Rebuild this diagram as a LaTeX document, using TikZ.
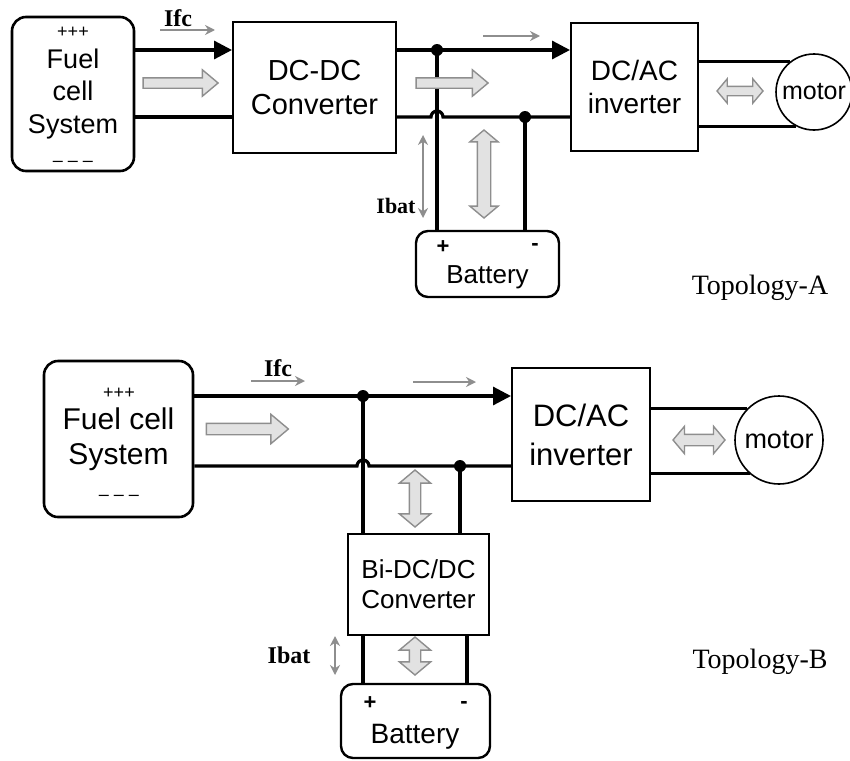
\documentclass[tikz,border=0pt]{standalone}
\usepackage{fontspec}
\setmainfont{Liberation Serif}
\newfontfamily\arial{Liberation Sans}
\usetikzlibrary{arrows.meta, shapes.arrows}
\definecolor{flowGrey}{HTML}{8E8E8E}
\definecolor{flowFill}{HTML}{E2E2E2}
\tikzset{
  blk/.style={draw, line width=1pt, align=center, inner sep=0pt,
    font=\arial\fontsize{14.5}{17}\selectfont},
  srcbox/.style={blk, rounded corners=7pt, line width=1.3pt},
  batbox/.style={blk, rounded corners=6pt, line width=1.2pt},
  motorc/.style={draw, circle, line width=0.8pt, inner sep=0pt, fill=white},
  wire/.style={line width=1.6pt},
  wirea/.style={wire, -{Triangle[length=9pt, width=9pt]}},
  jdot/.style={circle, fill, inner sep=0pt, minimum size=6pt},
  pm/.style={font=\arial\bfseries\fontsize{11}{12}\selectfont, inner sep=0pt},
  cur/.style={font=\bfseries\fontsize{12}{14}\selectfont, inner sep=0pt},
  topo/.style={font=\fontsize{14}{16}\selectfont, inner sep=0pt},
  cflow/.style={draw=flowGrey, line width=1.3pt, -{Stealth[length=5pt, width=5pt]}},
  cflow2/.style={cflow, {Stealth[length=5pt, width=5pt]}-{Stealth[length=5pt, width=5pt]}},
  fatr/.style={single arrow, draw=flowGrey, fill=flowFill, line width=0.7pt,
    inner xsep=0pt, single arrow tip angle=80, single arrow head indent=0pt},
  fatlr/.style={double arrow, draw=flowGrey, fill=flowFill, line width=0.7pt,
    inner xsep=0pt, double arrow tip angle=100, double arrow head indent=0pt},
  sign/.style={font=\arial\fontsize{9}{10}\selectfont, inner sep=0pt},
}
\begin{document}
\begin{tikzpicture}[x=0.5pt, y=-0.5pt]
  \useasboundingbox (0,0) rectangle (850,760);

  % Topology A
  \node[srcbox, minimum width=61pt, minimum height=77pt,
    font=\arial\fontsize{13.5}{16.25}\selectfont] (fcA) at (73,94) {Fuel\\cell\\System};
  \node[sign] (fcAp) at (73,32) {+++};
  \node[sign] (fcAm) at (73,164) {– – –};
  \node[blk, minimum width=81.5pt, minimum height=65.5pt] (ddA) at (314.5,87.5) {DC-DC\\Converter};
  \node[blk, minimum width=63.5pt, minimum height=64pt, font=\arial\fontsize{14}{16.5}\selectfont] (acA) at (634.5,87) {DC/AC\\inverter};
  \node[batbox, minimum width=71.5pt, minimum height=33pt] (batA) at (487.5,264) {};
  \node[font=\arial\fontsize{13}{14}\selectfont, inner sep=0pt] (batAt) at (487.5,277) {Battery};
  \node[pm] (batAp) at (443,247) {+};
  \node[pm] (batAm) at (535,247) {-};

  \coordinate (jA1) at (437,50);
  \coordinate (jA2) at (525,117);
  \draw[wirea] (fcA.east |- jA1) -- (ddA.west |- jA1);
  \draw[wire]  (fcA.east |- jA2) -- (ddA.west |- jA2);
  \draw[wirea] (ddA.east |- jA1) -- (acA.west |- jA1);
  \draw[wire]  (ddA.east |- jA2) -- ([xshift=-3pt]jA1 |- jA2)
    arc[start angle=180, end angle=360, radius=6] -- (acA.west |- jA2);
  \draw[wire] (jA1) -- (jA1 |- batA.north);
  \draw[wire] (jA2) -- (jA2 |- batA.north);
  \node[jdot] (dA1) at (jA1) {};
  \node[jdot] (dA2) at (jA2) {};

  \node[motorc, minimum size=38pt, font=\arial\fontsize{12.5}{14}\selectfont] (motA) at (814,92) {motor};
  \draw[wire] (acA.east |- motA.128) -- (motA.128);
  \draw[wire] (acA.east |- motA.243) -- (motA.243);

  \node[cur] (ifcA) at (178,18) {Ifc};
  \draw[cflow] (160,30) -- (215,30);
  \draw[cflow] (483,36) -- (540,36);
  \node[cur, font=\bfseries\fontsize{11}{13}\selectfont] (ibatA) at (396,206) {Ibat};
  \draw[cflow2] (423,135) -- (423,218);

  \node[fatr, minimum height=37.5pt, inner ysep=2.25pt, single arrow head extend=4pt] (faA1) at (177.5,83) {};
  \node[fatr, minimum height=36pt, inner ysep=2.25pt, single arrow head extend=4pt] (faA2) at (449,83) {};
  \node[fatlr, rotate=90, minimum height=44pt, inner ysep=3pt, double arrow head extend=3.75pt] (faA3) at (484,174) {};
  \node[fatlr, minimum height=23pt, inner ysep=2pt, double arrow head extend=3.75pt] (faA4) at (740,91) {};

  \node[topo] (topoA) at (760,288) {Topology-A};

  % Topology B
  \node[srcbox, minimum width=74.5pt, minimum height=78pt,
    font=\arial\fontsize{15}{17.5}\selectfont] (fcB) at (118.5,439) {Fuel cell\\System};
  \node[sign] (fcBp) at (119,393) {+++};
  \node[sign] (fcBm) at (119,498) {– – –};
  \node[blk, minimum width=69pt, minimum height=66.5pt,
    font=\arial\fontsize{15.5}{19.5}\selectfont] (acB) at (581,434.5) {DC/AC\\inverter};
  \node[blk, minimum width=70.5pt, minimum height=50.5pt,
    font=\arial\fontsize{13}{15}\selectfont] (biB) at (418.5,584.5) {Bi-DC/DC\\Converter};
  \node[batbox, minimum width=74.5pt, minimum height=37pt] (batB) at (415.5,721) {};
  \node[font=\arial\fontsize{14}{15}\selectfont, inner sep=0pt] (batBt) at (415,737) {Battery};
  \node[pm] (batBp) at (370,703) {+};
  \node[pm] (batBm) at (464,705) {-};

  \coordinate (jB1) at (363,396);
  \coordinate (jB2) at (460,466);
  \coordinate (jB3) at (467,635);
  \draw[wirea] (fcB.east |- jB1) -- (acB.west |- jB1);
  \draw[wire]  (fcB.east |- jB2) -- ([xshift=-3pt]jB1 |- jB2)
    arc[start angle=180, end angle=360, radius=6] -- (acB.west |- jB2);
  \draw[wire] (jB1) -- (jB1 |- biB.north);
  \draw[wire] (jB2) -- (jB2 |- biB.north);
  \draw[wire] (jB1 |- biB.south) -- (jB1 |- batB.north);
  \draw[wire] (jB3) -- (jB3 |- batB.north);
  \node[jdot] (dB1) at (jB1) {};
  \node[jdot] (dB2) at (jB2) {};

  \node[motorc, minimum size=44pt, font=\arial\fontsize{13.5}{16}\selectfont] (motB) at (779,440) {motor};
  \draw[wire] (acB.east |- motB.135) -- (motB.135);
  \draw[wire] (acB.east |- motB.229) -- (motB.229);

  \node[cur] (ifcB) at (278,368) {Ifc};
  \draw[cflow] (251,381) -- (305,381);
  \draw[cflow] (413,382) -- (476,382);
  \node[cur] (ibatB) at (289,655) {Ibat};
  \draw[cflow2] (335,636) -- (335,675);

  \node[fatr, minimum height=41pt, inner ysep=2.5pt, single arrow head extend=4.5pt] (faB1) at (244,429) {};
  \node[fatlr, rotate=90, minimum height=28.5pt, inner ysep=2.5pt, double arrow head extend=5pt] (faB2) at (415,498.5) {};
  \node[fatlr, rotate=90, minimum height=19pt, inner ysep=2.5pt, double arrow head extend=5pt] (faB3) at (415,656) {};
  \node[fatlr, minimum height=26pt, inner ysep=2.5pt, double arrow head extend=4pt] (faB4) at (699,440) {};

  \node[topo] (topoB) at (760,662) {Topology-B};
\end{tikzpicture}
\end{document}
